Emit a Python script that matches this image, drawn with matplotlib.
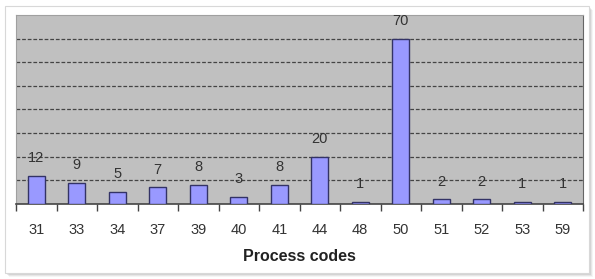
import matplotlib.pyplot as plt
from matplotlib.patches import Rectangle

# Datos del grafico
codigos = ["31", "33", "34", "37", "39", "40", "41", "44", "48", "50", "51", "52", "53", "59"]
cantidades = [12, 9, 5, 7, 8, 3, 8, 20, 1, 70, 2, 2, 1, 1]

plt.rcParams['font.family'] = ['Liberation Sans', 'DejaVu Sans']

W, H = 595, 279
fig = plt.figure(figsize=(W / 100, H / 100), dpi=100)
fig.patch.set_facecolor("white")

# Marco exterior con sombra
for i, a in enumerate([0.10, 0.08, 0.06, 0.04]):
    off = i + 1
    fig.patches.append(Rectangle(((5 + off) / W, (279 - 273 - off) / H), 584 / W, 267 / H,
                                 transform=fig.transFigure, facecolor="black", alpha=a,
                                 edgecolor="none", zorder=0))
fig.patches.append(Rectangle((5 / W, (279 - 273) / H), 584 / W, 267 / H,
                             transform=fig.transFigure, facecolor="white",
                             edgecolor="#d8d8d8", linewidth=0.8, zorder=1))

ax = fig.add_axes([16 / W, (279 - 204) / H, (583 - 16) / W, (204 - 15) / H])
ax.set_zorder(2)
ax.set_facecolor("#c0c0c0")

x = range(len(codigos))
ax.bar(x, cantidades, width=0.42, color="#9999ff", edgecolor="#333366", linewidth=1, zorder=3)

for xi, v in zip(x, cantidades):
    ax.text(xi, v + 7.5, str(v), ha="center", va="center", fontsize=10.5, color="#333333", zorder=4)

ax.set_xlim(-0.5, len(codigos) - 0.5)
ax.set_ylim(0, 80)
ax.set_yticks(range(10, 80, 10))
ax.yaxis.set_tick_params(length=0, labelleft=False)
ax.grid(axis="y", linestyle=(0, (3, 1.5)), color="#444444", linewidth=0.9, zorder=1)

ax.set_xticks(x)
ax.set_xticklabels(codigos, fontsize=10.5, color="#333333")
ax.tick_params(axis="x", length=0, pad=14)
# marcas entre categorias
ax.set_xticks([i + 0.5 for i in range(-1, len(codigos))], minor=True)
ax.tick_params(axis="x", which="minor", length=5, color="#444444", width=1)

for s in ["top", "left"]:
    ax.spines[s].set_color("#a0a0a0")
    ax.spines[s].set_linewidth(0.8)
ax.spines["right"].set_color("#666666")
ax.spines["bottom"].set_color("#444444")
ax.spines["bottom"].set_linewidth(1.2)

ax.set_xlabel("Process codes", fontsize=11.5, fontweight="bold", color="#222222", labelpad=8)

fig.savefig("out.png", dpi=100)
